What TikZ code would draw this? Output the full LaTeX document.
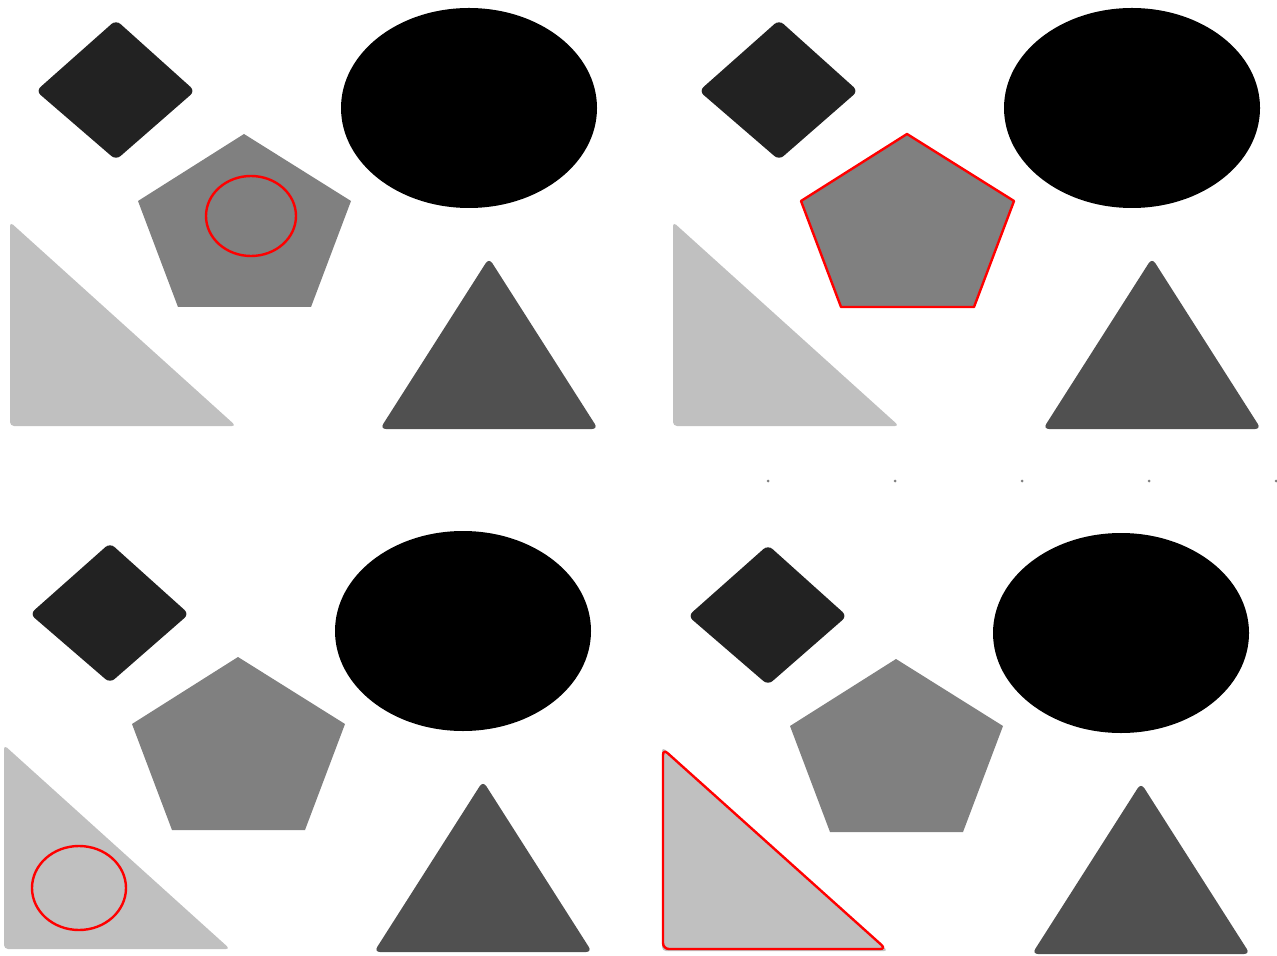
\documentclass[tikz,border=0pt]{standalone}
\begin{document}
\begin{tikzpicture}[x=0.5pt,y=-0.5pt,
  dia/.style={fill={rgb,255:red,34;green,34;blue,34},rounded corners=3},
  ell/.style={fill=black},
  pent/.style={fill={rgb,255:red,128;green,128;blue,128}},
  rtri/.style={fill={rgb,255:red,192;green,192;blue,192},rounded corners=2},
  tri/.style={fill={rgb,255:red,80;green,80;blue,80},rounded corners=3},
  hl/.style={draw=red,line width=1.2pt},
  dotm/.style={fill=gray}]
\useasboundingbox (0,0) rectangle (1277,956);
\fill[white] (0,0) rectangle (1277,956);
\newcommand{\shapesset}{%
  \fill[dia] (116,20) -- (195,91) -- (116,160) -- (36,91) -- cycle;
  \fill[ell] (469,108) ellipse [x radius=128, y radius=100];
  \fill[pent] (244,134) -- (351,201) -- (311,307) -- (178,307) -- (138,201) -- cycle;
  \fill[rtri] (10,222) -- (236,426) -- (10,426) -- cycle;
  \fill[tri] (489,258) -- (598,429) -- (380,429) -- cycle;
}
\begin{scope}
  \shapesset
  \draw[hl] (251,216) ellipse [x radius=45, y radius=40];
\end{scope}
\begin{scope}[shift={(663,0)}]
  \shapesset
  \draw[hl,line join=round] (244,134) -- (351,201) -- (311,307) -- (178,307) -- (138,201) -- cycle;
\end{scope}
\begin{scope}[shift={(-6,523)}]
  \shapesset
  \draw[hl] (85,365) ellipse [x radius=47, y radius=42];
\end{scope}
\begin{scope}[shift={(652,525)}]
  \shapesset
  \draw[hl,rounded corners=3] (11,224) -- (234,424) -- (11,424) -- cycle;
\end{scope}
\foreach \xx in {768,895,1022,1149,1276} \fill[dotm] (\xx,481) circle [radius=1.5];
\end{tikzpicture}
\end{document}
